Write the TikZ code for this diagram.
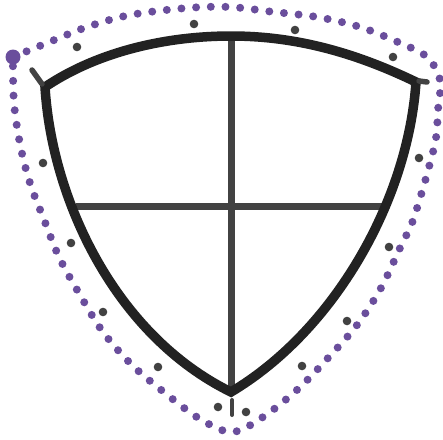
\documentclass[tikz,border=0pt]{standalone}
\usepackage{tikz}
\definecolor{guide}{RGB}{106,78,156}
\definecolor{ink}{RGB}{34,34,34}
\definecolor{pencil}{RGB}{66,66,66}

\begin{document}
\begin{tikzpicture}[
  x=1pt, y=-1pt,
  outline/.style={draw=ink, line width=9.5pt},
  crossbar/.style={draw=pencil, line width=7pt},
  guideline/.style={draw=guide, line width=8pt, line cap=round, dash pattern=on 0pt off 14.7pt},
  handle/.style={fill=pencil},
  stub/.style={draw=pencil, line width=5.5pt, line cap=round}
]
  \useasboundingbox (0,0) rectangle (443,439);

  % shield corners and cross ends
  \coordinate (tl) at (45,87);
  \coordinate (tr) at (416,82);
  \coordinate (top) at (231,36);
  \coordinate (apex) at (231,392);
  \coordinate (west) at (76,206);
  \coordinate (east) at (385,206);
  \coordinate (start) at (13,57);

  % dotted guide round the shield
  \draw[guideline] plot[smooth, tension=0.55] coordinates {
    (13,57) (47,43) (87,27) (130,15) (187,8) (230,7) (274,12) (317,17)
    (360,27) (400,43) (427,57) (440,80) (438,110) (436,138) (429,167)
    (421,195) (412,223) (400,248) (381,288) (357,325) (328,358) (298,389)
    (263,417) (232,432) (200,419) (165,393) (132,365) (103,332) (80,295)
    (59,257) (43,217) (32,189) (24,162) (18,133) (14,103) (13,74) (13,57)};
  \fill[guide] (start) circle (7.5);

  % cross
  \draw[crossbar] (top) -- (apex);
  \draw[crossbar] (west) -- (east);

  % shield
  \draw[outline] (tl) .. controls (100,50) and (170,36) .. (top)
    .. controls (300,36) and (360,55) .. (tr)
    .. controls (408,200) and (335,330) .. (apex)
    .. controls (115,335) and (52,200) .. cycle;

  % handles
  \draw[stub] (32,70) -- (42,84);
  \draw[stub] (419,81) -- (427,82);
  \draw[stub, line width=4pt] (232,400) -- (232,415);
  \foreach \p in {(77,47), (194,24), (295,30), (393,57), (419,158), (389,247),
    (347,321), (302,366), (246,412), (218,407), (158,367), (103,312),
    (71,243), (43,163)}
    \fill[handle] \p circle (4.3);
\end{tikzpicture}
\end{document}
